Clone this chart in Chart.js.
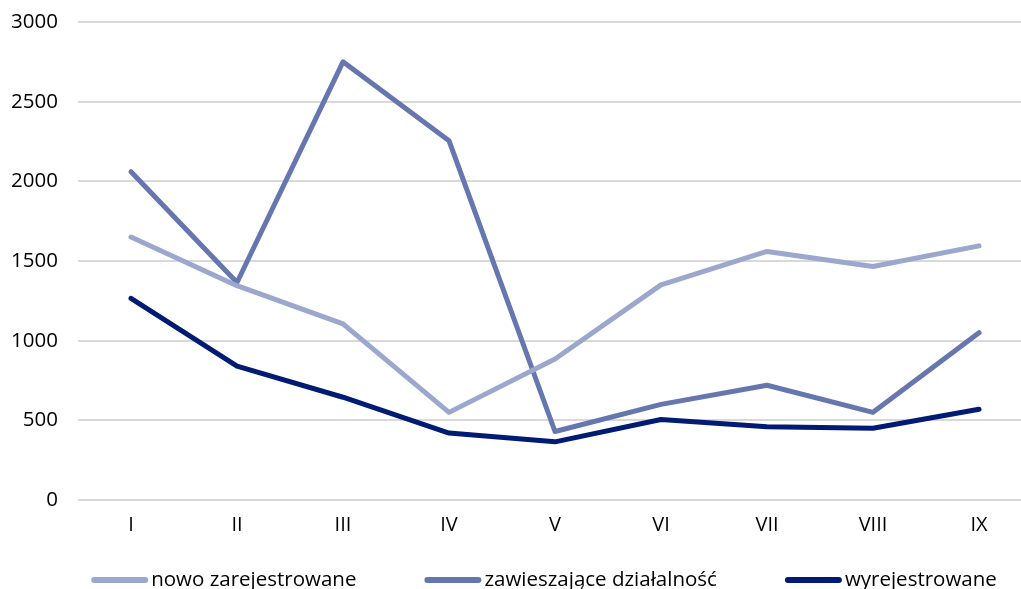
<!DOCTYPE html>
<html>
<head>
<meta charset="utf-8">
<script src="https://cdn.jsdelivr.net/npm/chart.js@4/dist/chart.umd.min.js"></script>
<style>
  html, body { margin: 0; padding: 0; background: #fff; overflow: hidden; }
  #wrap { width: 1032px; height: 589px; }
</style>
</head>
<body>
<div id="wrap"><canvas id="lineChart" width="1032" height="589"></canvas></div>
<script>
/* data */
const months = ['I', 'II', 'III', 'IV', 'V', 'VI', 'VII', 'VIII', 'IX'];
const newRegistered = [1650, 1345, 1105, 550, 885, 1350, 1560, 1465, 1595];
const suspended = [2060, 1365, 2750, 2255, 430, 600, 720, 550, 1050];
const deregistered = [1265, 840, 645, 420, 365, 505, 460, 450, 570];
const seriesNames = ['nowo zarejestrowane', 'zawieszające działalność', 'wyrejestrowane'];
const seriesColors = ['#9ba7cc', '#6677b0', '#001b74'];

const FONT = '"Open Sans", sans-serif';

function lineSet(label, data, color) {
  return {
    label: label,
    data: data,
    borderColor: color,
    backgroundColor: color,
    borderWidth: 5,
    borderCapStyle: 'round',
    borderJoinStyle: 'round',
    pointRadius: 0,
    pointHoverRadius: 0,
    tension: 0
  };
}

/* legend row under the plot: line sample + text, equal gaps, centred */
const rowLegend = {
  id: 'rowLegend',
  afterDraw(chart) {
    const ctx = chart.ctx;
    const sample = 60;   // line sample + small gap
    const gap = 68;      // gap between items
    const center = 544;
    const y = 580;
    ctx.save();
    ctx.font = '20.5px ' + FONT;
    ctx.textBaseline = 'middle';
    ctx.textAlign = 'left';
    const items = chart.data.datasets.map(ds => ({ ds, w: ctx.measureText(ds.label).width }));
    const total = items.reduce((s, it) => s + sample + it.w, 0) + gap * (items.length - 1);
    let x = center - total / 2;
    items.forEach(it => {
      ctx.strokeStyle = it.ds.borderColor;
      ctx.lineWidth = 6;
      ctx.lineCap = 'round';
      ctx.beginPath();
      ctx.moveTo(x + 3, y);
      ctx.lineTo(x + 54, y);
      ctx.stroke();
      ctx.fillStyle = '#000';
      ctx.fillText(it.ds.label, x + sample, y);
      x += sample + it.w + gap;
    });
    ctx.restore();
  }
};

const ctx = document.getElementById('lineChart').getContext('2d');
const lineChart = new Chart(ctx, {
  type: 'line',
  data: {
    labels: months,
    datasets: [
      lineSet(seriesNames[0], newRegistered, seriesColors[0]),
      lineSet(seriesNames[1], suspended, seriesColors[1]),
      lineSet(seriesNames[2], deregistered, seriesColors[2])
    ]
  },
  options: {
    responsive: false,
    animation: false,
    layout: { padding: { top: 22, left: 0, right: 0, bottom: 0 } },
    plugins: {
      legend: { display: false },
      tooltip: { enabled: false }
    },
    scales: {
      x: {
        offset: true,
        grid: { display: false, drawTicks: false },
        border: { display: false },
        ticks: { color: '#000', font: { family: FONT, size: 20 }, padding: 13, maxRotation: 0 },
        afterFit(scale) {
          scale.height = 89;
          scale.paddingLeft = 0;
          scale.paddingRight = 0;
        }
      },
      y: {
        min: 0,
        max: 3000,
        grid: { color: '#d9d9d9', lineWidth: 2, drawTicks: false },
        border: { display: false },
        ticks: {
          stepSize: 500,
          color: '#000',
          font: { family: FONT, size: 20.5 },
          padding: 20,
          callback: v => String(v)
        },
        afterFit(scale) {
          scale.width = 78;
          scale.paddingTop = 0;
          scale.paddingBottom = 0;
        }
      }
    }
  },
  plugins: [rowLegend]
});
</script>
</body>
</html>
